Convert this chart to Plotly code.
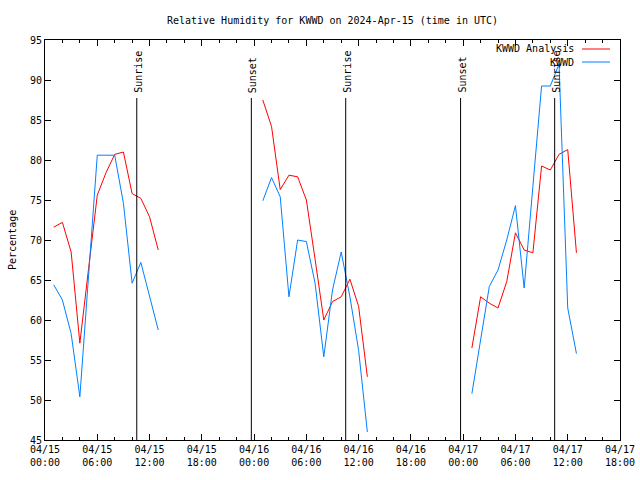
import plotly.graph_objects as go
from datetime import datetime, timedelta

# ---- data ----
day_starts = ["2024-04-15 01:00", "2024-04-16 01:00", "2024-04-17 01:00"]

analysis_day1 = [71.6, 72.2, 68.5, 57.1, 66.4, 75.6, 78.4, 80.7, 81.0, 75.8, 75.2, 72.9, 68.75]
analysis_day2 = [87.5, 84.2, 76.3, 78.1, 77.9, 75.0, 67.6, 60.0, 62.3, 62.9, 65.1, 61.7, 52.9]
analysis_day3 = [56.5, 62.9, 62.1, 61.5, 64.8, 70.9, 68.75, 68.4, 79.25, 78.75, 80.7, 81.3, 68.4]

obs_day1 = [64.4, 62.5, 58.3, 50.4, 65.5, 80.6, 80.6, 80.6, 74.6, 64.6, 67.2, 62.9, 58.75]
obs_day2 = [74.9, 77.8, 75.4, 62.9, 70.0, 69.8, 64.6, 55.4, 63.75, 68.5, 62.9, 56.2, 46.0]
obs_day3 = [50.8, 57.5, 64.2, 66.25, 70.0, 74.3, 64.0, 76.7, 89.25, 89.25, 92.0, 61.5, 55.8]

sun_events = [
    ("2024-04-15 10:32", "Sunrise"),
    ("2024-04-15 23:41", "Sunset"),
    ("2024-04-16 10:31", "Sunrise"),
    ("2024-04-16 23:42", "Sunset"),
    ("2024-04-17 10:30", "Sunrise"),
]

tick_times = ["2024-04-15 00:00", "2024-04-15 06:00", "2024-04-15 12:00", "2024-04-15 18:00",
              "2024-04-16 00:00", "2024-04-16 06:00", "2024-04-16 12:00", "2024-04-16 18:00",
              "2024-04-17 00:00", "2024-04-17 06:00", "2024-04-17 12:00", "2024-04-17 18:00"]
tick_labels = ["04/15<br>00:00", "04/15<br>06:00", "04/15<br>12:00", "04/15<br>18:00",
               "04/16<br>00:00", "04/16<br>06:00", "04/16<br>12:00", "04/16<br>18:00",
               "04/17<br>00:00", "04/17<br>06:00", "04/17<br>12:00", "04/17<br>18:00"]
y_ticks = [45, 50, 55, 60, 65, 70, 75, 80, 85, 90, 95]

series_names = ["KWWD Analysis", "KWWD"]
series_colors = ["#ff0000", "#0080ff"]

# ---- build x/y with gaps between days ----
def build(days_vals):
    xs, ys = [], []
    for start, vals in zip(day_starts, days_vals):
        t0 = datetime.strptime(start, "%Y-%m-%d %H:%M")
        for i, v in enumerate(vals):
            xs.append(t0 + timedelta(hours=i))
            ys.append(v)
        xs.append(None)
        ys.append(None)
    return xs, ys

ax, ay = build([analysis_day1, analysis_day2, analysis_day3])
ox, oy = build([obs_day1, obs_day2, obs_day3])

FONT = "DejaVu Sans Mono"
FS = 10
fig = go.Figure()
fig.add_trace(go.Scatter(x=ax, y=ay, mode="lines", name=series_names[0],
                         line=dict(color=series_colors[0], width=1), connectgaps=False))
fig.add_trace(go.Scatter(x=ox, y=oy, mode="lines", name=series_names[1],
                         line=dict(color=series_colors[1], width=1), connectgaps=False))

for t, label in sun_events:
    fig.add_shape(type="line", xref="x", yref="y", x0=t, x1=t, y0=45, y1=87.75,
                  line=dict(color="black", width=1))
    fig.add_annotation(x=t, y=87.75, xref="x", yref="y", text=label, textangle=-90,
                       showarrow=False, xanchor="center", yanchor="bottom", yshift=3, xshift=1,
                       font=dict(family=FONT, size=FS, color="black"))

L, W, T, H = 45, 575, 40, 400
def px(x):
    return (x - L) / W
def py(y):
    return (T + H - y) / H
for i, (nm, col) in enumerate(zip(series_names, series_colors)):
    yy = 49 + 13 * i
    fig.add_annotation(x=px(576), y=py(yy), xref="paper", yref="paper", text=nm,
                       showarrow=False, xanchor="right", yanchor="middle",
                       font=dict(family=FONT, size=FS, color="black"))
    fig.add_shape(type="line", xref="paper", yref="paper", x0=px(582), x1=px(610),
                  y0=py(yy), y1=py(yy), line=dict(color=col, width=1))

fig.add_annotation(x=px(12), y=0.5, xref="paper", yref="paper", text="Percentage",
                   textangle=-90, showarrow=False, xanchor="center", yanchor="middle",
                   font=dict(family=FONT, size=FS, color="black"))

fig.update_layout(
    width=640, height=480,
    margin=dict(l=L, r=640 - L - W, t=T, b=480 - T - H, autoexpand=False),
    paper_bgcolor="white", plot_bgcolor="white",
    showlegend=False,
    title=dict(text="Relative Humidity for KWWD on 2024-Apr-15 (time in UTC)",
               x=0.5, xref="paper", y=1 - 20 / 480, yref="container",
               xanchor="center", yanchor="middle",
               font=dict(family=FONT, size=FS, color="black")),
    font=dict(family=FONT, size=FS, color="black"),
)
fig.update_xaxes(
    type="date", range=["2024-04-15 00:00", "2024-04-17 18:00"],
    tickmode="array", tickvals=tick_times, ticktext=tick_labels,
    ticks="inside", ticklen=6, tickcolor="black", tickwidth=1,
    minor=dict(ticks="inside", ticklen=3, dtick=2 * 3600 * 1000, tickcolor="black",
               tick0="2024-04-15 00:00", showgrid=False),
    showline=True, linecolor="black", linewidth=1, mirror="ticks",
    showgrid=False, zeroline=False, automargin=False,
    tickfont=dict(family=FONT, size=FS, color="black"),
)
fig.update_yaxes(
    range=[45, 95], tickmode="array", tickvals=y_ticks,
    ticks="inside", ticklen=6, tickcolor="black", tickwidth=1,
    showline=True, linecolor="black", linewidth=1, mirror="ticks",
    showgrid=False, zeroline=False, automargin=False,
    tickfont=dict(family=FONT, size=FS, color="black"),
)

fig.write_html("out.html",
               config={"displayModeBar": False, "staticPlot": True},
               post_script="document.body.style.margin='0';document.body.style.overflow='hidden';")
